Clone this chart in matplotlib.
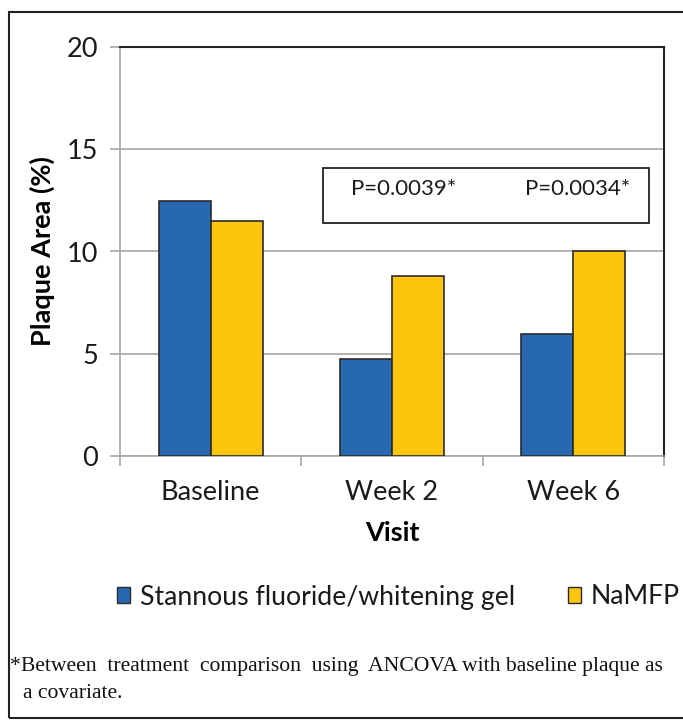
import numpy as np
import matplotlib.pyplot as plt
from matplotlib.patches import Rectangle, Patch

# values
visits = ["Baseline", "Week 2", "Week 6"]
sf_gel = [12.45, 4.75, 5.95]
namfp = [11.48, 8.8, 10.02]
series_names = ["Stannous fluoride/whitening gel", "NaMFP"]
p_labels = ["P=0.0039*", "P=0.0034*"]
y_ticks = [0, 5, 10, 15, 20]

blue = "#2769B1"
yellow = "#FDC60C"
grid_grey = "#A6A6A6"

plt.rcParams['font.family'] = ['Lato', 'DejaVu Sans']

W, H = 683, 723
fig = plt.figure(figsize=(W / 100, H / 100), dpi=100)

# px -> figure fraction helpers
def fx(px):
    return px / W

def fy(py):
    return 1 - py / H

# outer frame around the panel (right edge falls outside the picture)
fig.patches.append(Rectangle((fx(9), fy(718)), fx(900), fy(12) - fy(718),
                             transform=fig.transFigure, fill=False,
                             edgecolor="#222222", linewidth=1.5))

ax = fig.add_axes([fx(120), fy(456), fx(664) - fx(120), fy(47) - fy(456)])

x = np.arange(len(visits))
bw = 0.287
ax.bar(x - bw / 2, sf_gel, bw, color=blue, edgecolor="#2b2b2b", linewidth=1.2,
       label=series_names[0], zorder=3)
ax.bar(x + bw / 2, namfp, bw, color=yellow, edgecolor="#2b2b2b", linewidth=1.2,
       label=series_names[1], zorder=3)

ax.set_xlim(-0.5, len(visits) - 0.5)
ax.set_ylim(0, 20)
ax.set_yticks(y_ticks)
ax.yaxis.grid(True, color=grid_grey, linewidth=1.2, zorder=0)

# category labels with boundary ticks like a spreadsheet chart
ax.set_xticks(x)
ax.set_xticklabels(visits, fontsize=19.5, color="#1a1a1a")
ax.tick_params(axis='x', which='major', length=0, pad=17)
ax.set_xticks(np.arange(-0.5, len(visits)), minor=True)
ax.tick_params(axis='x', which='minor', length=7, color=grid_grey, width=1.2)
ax.tick_params(axis='y', length=7, color=grid_grey, width=1.2,
               labelsize=19.5, labelcolor="#1a1a1a", pad=9)

for side in ["left", "bottom"]:
    ax.spines[side].set_color(grid_grey)
    ax.spines[side].set_linewidth(1.2)
for side in ["top", "right"]:
    ax.spines[side].set_color("#222222")
    ax.spines[side].set_linewidth(1.5)

ax.set_ylabel("Plaque Area (%)", fontsize=19.5, fontweight='bold', labelpad=8)
ax.set_xlabel("Visit", fontsize=19.5, fontweight='bold', labelpad=12)

# p-value box
ax.add_patch(Rectangle((0.373, 0.570), 0.599, 0.134, transform=ax.transAxes,
                       fill=False, edgecolor="#222222", linewidth=1.3, zorder=4))
ax.text(0.521, 0.652, p_labels[0], transform=ax.transAxes, ha='center',
        va='center', fontsize=16, color="#1a1a1a")
ax.text(0.842, 0.652, p_labels[1], transform=ax.transAxes, ha='center',
        va='center', fontsize=16, color="#1a1a1a")

handles = [Patch(facecolor=blue, edgecolor="#2b2b2b"),
           Patch(facecolor=yellow, edgecolor="#2b2b2b")]
fig.legend(handles, series_names, loc='center left', bbox_to_anchor=(fx(117), fy(597)),
           ncol=2, frameon=False, fontsize=19.2, handlelength=0.5, handleheight=0.5,
           handletextpad=0.35, columnspacing=2.0, labelcolor="#1a1a1a",
           borderpad=0, borderaxespad=0)

fig.text(fx(10), fy(667), "*Between  treatment  comparison  using  ANCOVA with baseline plaque as",
         family="Liberation Serif", fontsize=15.6, va='center', ha='left', color="#111111")
fig.text(fx(23), fy(693), "a covariate.", family="Liberation Serif", fontsize=15.6,
         va='center', ha='left', color="#111111")

fig.savefig("out.png", dpi=100)
